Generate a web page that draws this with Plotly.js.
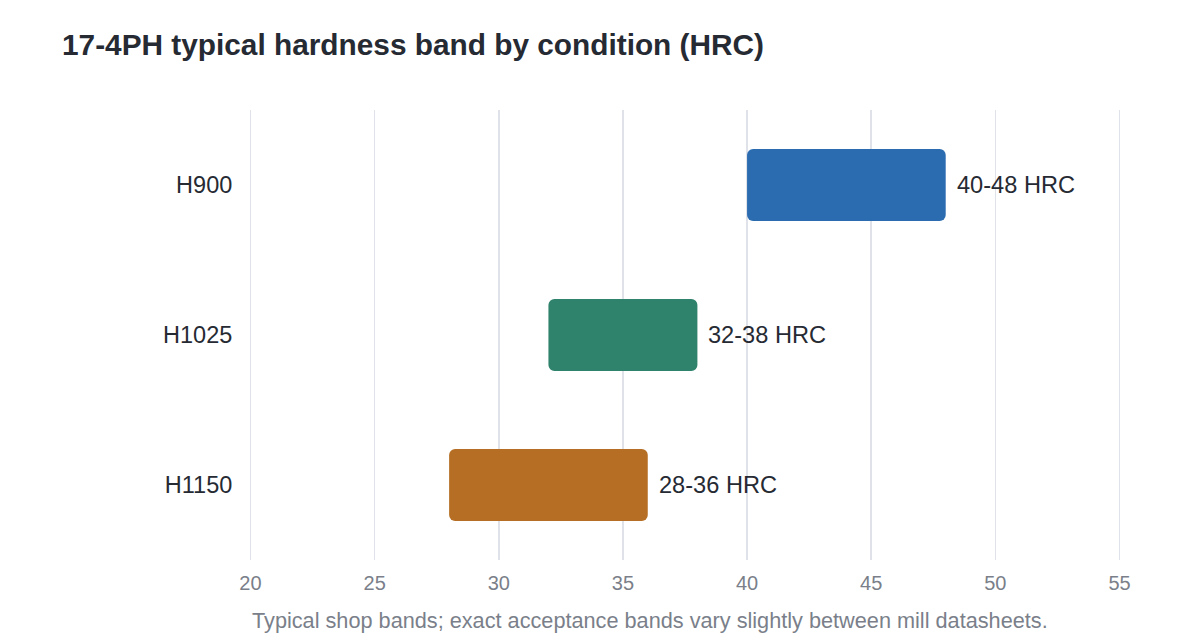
<!DOCTYPE html>
<html>
<head>
<meta charset="utf-8">
<script src="https://cdn.plot.ly/plotly-3.0.1.min.js"></script>
<style>
  html, body { margin: 0; padding: 0; background: #fff; }
  #chart { width: 1200px; height: 640px; }
</style>
</head>
<body>
<div id="chart"></div>
<script>
// hardness bands per condition, HRC
const conditions = ["H900", "H1025", "H1150"];
const lowHRC = [40, 32, 28];
const highHRC = [48, 38, 36];
const barColors = ["#2B6CB0", "#2F826B", "#B56E23"];
const xTicks = [20, 25, 30, 35, 40, 45, 50, 55];

const FONT = "Liberation Sans, Arial, sans-serif";
const DARK = "#262A33";
const GREY = "#7A7F8A";

const trace = {
    type: "bar",
    orientation: "h",
    y: conditions,
    base: lowHRC,
    x: highHRC.map((h, i) => h - lowHRC[i]),
    marker: { color: barColors, line: { width: 0 } },
    hoverinfo: "skip",
    showlegend: false
};

// labels to the right of each band
const labels = conditions.map((c, i) => ({
    x: highHRC[i],
    y: c,
    xref: "x",
    yref: "y",
    text: lowHRC[i] + "-" + highHRC[i] + " HRC",
    showarrow: false,
    xanchor: "left",
    xshift: 9,
    font: { family: FONT, size: 23.6, color: DARK }
}));

// footnote under the axis
labels.push({
    xref: "paper", yref: "paper",
    x: 2.5 / 875, y: -60 / 450,
    xanchor: "left", yanchor: "middle",
    text: "Typical shop bands; exact acceptance bands vary slightly between mill datasheets.",
    showarrow: false,
    font: { family: FONT, size: 21.7, color: GREY }
});

const layout = {
    width: 1200,
    height: 640,
    paper_bgcolor: "#ffffff",
    plot_bgcolor: "#ffffff",
    margin: { l: 247.5, r: 77.5, t: 110, b: 80 },
    font: { family: FONT, color: DARK },
    title: {
        text: "<b>17-4PH typical hardness band by condition (HRC)</b>",
        xref: "container", yref: "container",
        x: 62 / 1200, y: 1 - 45 / 640,
        xanchor: "left", yanchor: "middle",
        font: { family: FONT, size: 29.8, color: DARK }
    },
    bargap: 0.52,
    barcornerradius: 6,
    xaxis: {
        range: [19.9, 55.1],
        tickvals: xTicks,
        showgrid: true,
        gridcolor: "#E0E2E9",
        gridwidth: 1.5,
        zeroline: false,
        showline: false,
        ticks: "",
        ticklabelstandoff: 9,
        tickfont: { family: FONT, size: 20, color: GREY },
        fixedrange: true
    },
    yaxis: {
        type: "category",
        categoryorder: "array",
        categoryarray: conditions.slice().reverse(),
        showgrid: false,
        zeroline: false,
        showline: false,
        ticks: "outside",
        ticklen: 10,
        tickcolor: "rgba(0,0,0,0)",
        tickfont: { family: FONT, size: 23.5, color: DARK },
        fixedrange: true
    },
    annotations: labels
};

Plotly.newPlot("chart", [trace], layout, { displayModeBar: false, staticPlot: true });
</script>
</body>
</html>
